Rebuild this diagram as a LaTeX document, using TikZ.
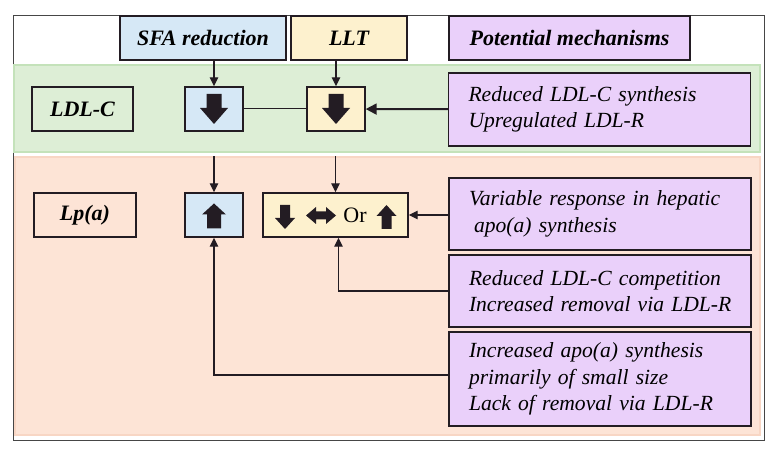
\documentclass[tikz,border=0pt]{standalone}
\usepackage{fontspec}
\setmainfont{Liberation Serif}
\usetikzlibrary{arrows.meta}

\definecolor{boxline}{RGB}{35,28,35}
\definecolor{framegrey}{RGB}{70,70,70}
\definecolor{sfablue}{RGB}{214,232,246}
\definecolor{lltyellow}{RGB}{253,241,206}
\definecolor{pmpurple}{RGB}{234,208,250}
\definecolor{ldlgreen}{RGB}{221,238,214}
\definecolor{ldlgreenline}{RGB}{196,226,186}
\definecolor{lpasalmon}{RGB}{253,228,214}
\definecolor{lpasalmonline}{RGB}{248,214,196}

\tikzset{
    pics/fatarrow/.style n args={4}{code={
        \fill[boxline] (-#1/2,-#2/2) -- (#1/2-#4,-#2/2) -- (#1/2-#4,-#3/2) -- (#1/2,0)
            -- (#1/2-#4,#3/2) -- (#1/2-#4,#2/2) -- (-#1/2,#2/2) -- cycle;
    }},
    pics/lrarrow/.style n args={4}{code={
        \fill[boxline] (-#1/2,0) -- (-#1/2+#4,-#3/2) -- (-#1/2+#4,-#2/2) -- (#1/2-#4,-#2/2)
            -- (#1/2-#4,-#3/2) -- (#1/2,0) -- (#1/2-#4,#3/2) -- (#1/2-#4,#2/2)
            -- (-#1/2+#4,#2/2) -- (-#1/2+#4,#3/2) -- cycle;
    }}
}

\begin{document}
\begin{tikzpicture}[x=1pt, y=-1pt,
        box/.style={draw=boxline, line width=1.4pt, minimum height=44pt, inner sep=0pt},
        headbox/.style={box, font=\fontsize{22}{26}\selectfont\bfseries\itshape},
        pmbox/.style={draw=boxline, line width=1.4pt, fill=pmpurple, text width=270pt,
            inner xsep=16pt, inner ysep=0pt, align=left,
            font=\fontsize{21.6}{26.5}\selectfont\itshape},
        band/.style={line width=1.2pt, inner sep=0pt},
        link/.style={draw=boxline, line width=1.3pt, -{Triangle[length=9pt,width=8.5pt]}}]
    \useasboundingbox (0, 0) rectangle (777, 454);

    % frame and the two bands
    \draw[draw=framegrey, line width=1pt] (13, 16) rectangle (764, 440);
    \node[band, draw=ldlgreenline, fill=ldlgreen, minimum width=746pt, minimum height=87pt] (ldlband) at (387, 108.5) {};
    \node[band, draw=lpasalmonline, fill=lpasalmon, minimum width=745pt, minimum height=278pt] (lpaband) at (387.5, 296) {};

    % column heads
    \node[headbox, fill=sfablue, minimum width=166pt] (sfa) at (203, 38) {SFA reduction};
    \node[headbox, fill=lltyellow, minimum width=116pt] (llt) at (349, 38) {LLT};
    \node[headbox, fill=pmpurple, minimum width=241pt] (pmhead) at (569.5, 38) {Potential mechanisms};

    % LDL-C row
    \node[headbox, minimum width=101pt] (ldlc) at (82.5, 109) {LDL-C};
    \node[box, fill=sfablue, minimum width=58pt] (bluedown) at (214, 109) {};
    \node[box, fill=lltyellow, minimum width=58pt] (ydown) at (336, 109) {};
    \node[pmbox, minimum height=73pt] (pmldl) at (599.5, 109.5) {\hspace*{4pt}Reduced LDL-C synthesis\\\hspace*{4pt}Upregulated LDL-R};
    \pic[rotate=-90] at (bluedown) {fatarrow={30}{15}{28}{16}};
    \pic[rotate=-90] at (ydown) {fatarrow={30}{15}{28}{16}};

    % Lp(a) row
    \node[headbox, minimum width=102pt] (lpa) at (85, 215) {Lp(a)};
    \node[box, fill=sfablue, minimum width=58pt] (blueup) at (214, 215) {};
    \node[box, fill=lltyellow, minimum width=145pt] (ywide) at (335.5, 215) {};
    \node[font=\fontsize{22}{26}\selectfont, inner sep=0pt] (ortext) at (355, 215) {Or};
    \pic[rotate=90] at (214, 216) {fatarrow={25}{14}{24}{11}};
    \pic[rotate=-90] at (285, 217) {fatarrow={24}{10}{20}{11}};
    \pic at (321, 215.5) {lrarrow={30}{8}{17}{10}};
    \pic[rotate=90] at (386.5, 217) {fatarrow={24}{10}{20}{11}};

    \node[pmbox, minimum height=72pt] (pm1) at (600, 214) {\hspace*{4pt}Variable response in hepatic\\\hspace*{9pt}apo(a) synthesis};
    \node[pmbox, minimum height=72pt] (pm2) at (600, 291) {\hspace*{4pt}Reduced LDL-C competition\\\hspace*{4pt}Increased removal via LDL-R};
    \node[pmbox, minimum height=94pt] (pm3) at (600, 379) {\hspace*{4pt}Increased apo(a) synthesis\\\hspace*{4pt}primarily of small size\\\hspace*{4pt}Lack of removal via LDL-R};

    % connectors
    \draw[link] (bluedown.north |- sfa.south) -- (bluedown.north);
    \draw[link] (ydown.north |- llt.south) -- (ydown.north);
    \draw[draw=boxline, line width=1pt] (bluedown) -- (ydown);
    \draw[link, line width=2pt, -{Triangle[length=11pt,width=11pt]}] (pmldl) -- (ydown);

    \draw[link] (blueup.north |- lpaband.north) -- (blueup.north);
    \draw[link] (ywide.north |- lpaband.north) -- (ywide.north);
    \draw[link] (pm1.west |- ywide.east) -- (ywide.east);
    \draw[link] (pm2.west) -| ([xshift=3pt]ywide.south);
    \draw[link] ([yshift=4pt]pm3.west) -| (blueup.south);
\end{tikzpicture}
\end{document}
